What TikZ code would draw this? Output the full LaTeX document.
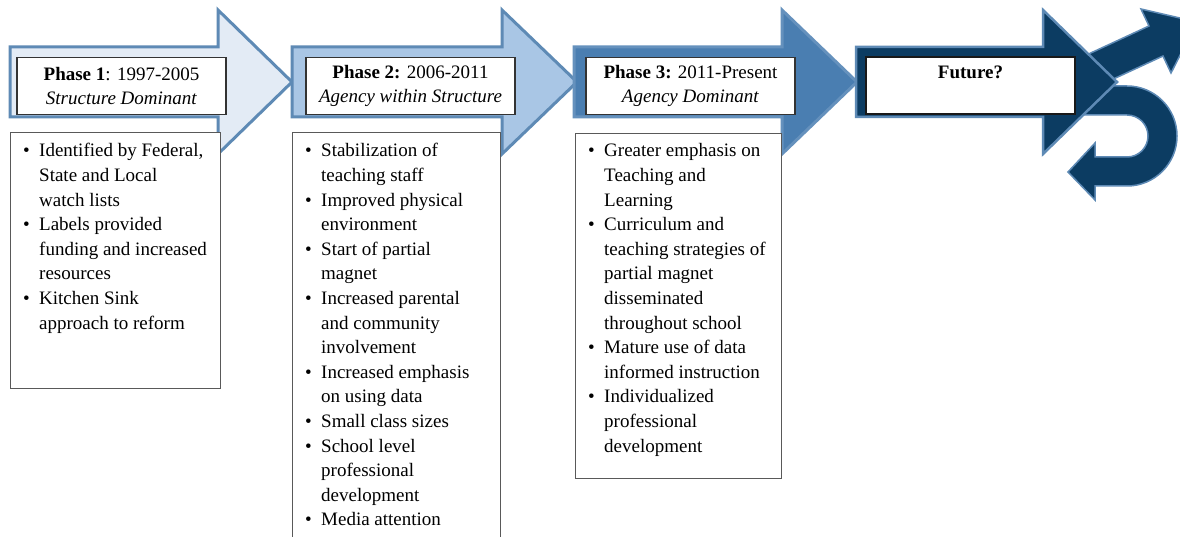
\documentclass[tikz,border=0pt]{standalone}
\usepackage{fontspec}
\setmainfont{Liberation Serif}
\definecolor{edgeblue}{HTML}{5E8AB5}
\definecolor{fillA}{HTML}{E3EBF5}
\definecolor{fillB}{HTML}{A9C6E5}
\definecolor{fillC}{HTML}{4A7EB1}
\definecolor{fillD}{HTML}{0C3C62}
\newcommand\bul{\makebox[16pt][l]{\textbullet}}
\newcommand\ind{\hspace*{16pt}}
\begin{document}
\begin{tikzpicture}[x=1pt,y=-1pt,
  phasearrow/.style={draw=edgeblue,line width=3pt,line join=miter},
  turnarrow/.style={draw=edgeblue,line width=1.5pt,fill=fillD,line join=miter},
  headbox/.style={draw=black!80,line width=1.2pt,fill=white,minimum width=209pt,
    minimum height=57pt,inner sep=0pt,align=center,font=\fontsize{19}{24}\selectfont},
  listbox/.style={draw=black!65,line width=1pt,fill=white,anchor=north west,inner sep=0pt},
  listtext/.style={anchor=base west,inner sep=0pt,font=\fontsize{19}{24.6}\selectfont}]
\clip (0,0) rectangle (1180,537);
\fill[white] (0,0) rectangle (1180,537);

% phase arrows
\draw[phasearrow,fill=fillA] (10,47) -- (218,47) -- (218,10) -- (292,82) -- (218,154) -- (218,117) -- (10,117) -- cycle;
\draw[phasearrow,fill=fillB] (292,47) -- (502,47) -- (502,10) -- (577,82) -- (502,154) -- (502,117) -- (292,117) -- cycle;
\draw[phasearrow,fill=fillC,draw=fillC!85!white] (574,47) -- (782,47) -- (782,10) -- (857,82) -- (782,154) -- (782,117) -- (574,117) -- cycle;

% branching arrows behind the last head
\draw[turnarrow] (1067,64) -- (1149,26) -- (1141,9) -- (1197,22) -- (1171,73) -- (1163,56) -- (1081,94) -- cycle;
\draw[turnarrow] (1075,86) -- (1127,86)
  .. controls (1154.6,86) and (1177,108.4) .. (1177,136)
  .. controls (1177,163.6) and (1154.6,186) .. (1127,186)
  -- (1095,186) -- (1095,200) -- (1068,172) -- (1095,143) -- (1095,157) -- (1127,157)
  .. controls (1138.6,157) and (1148,147.6) .. (1148,136)
  .. controls (1148,124.4) and (1138.6,115) .. (1127,115)
  -- (1075,115) -- cycle;

\draw[phasearrow,fill=fillD,line width=2.5pt] (856,47) -- (1043,47) -- (1043,10) -- (1117,82) -- (1043,154) -- (1043,117) -- (856,117) -- cycle;

% phase titles
\node[headbox] (h1) at (121.5,86) {\textbf{Phase 1}: 1997-2005\\\textit{Structure Dominant}};
\node[headbox] (h2) at (410.5,86) {\textbf{Phase 2:} 2006-2011\\\textit{Agency within Structure}};
\node[headbox] (h3) at (690.5,86) {\textbf{Phase 3:} 2011-Present\\\textit{Agency Dominant}};
\node[headbox,line width=2pt,draw=black!90] (h4) at (970.5,86) {\textbf{Future?}\\\phantom{Ag}};

% phase details
\node[listbox,minimum width=210pt,minimum height=256pt] (l1) at (10,132) {};
\node[listtext] (t1) at ([shift={(13,25)}]l1.north west) {\begin{tabular}[t]{@{}l@{}}
\bul Identified by Federal,\\ \ind State and Local\\ \ind watch lists\\
\bul Labels provided\\ \ind funding and increased\\ \ind resources\\
\bul Kitchen Sink\\ \ind approach to reform
\end{tabular}};

\node[listbox,minimum width=208pt,minimum height=420pt] (l2) at (292,132) {};
\node[listtext] (t2) at ([shift={(13,25)}]l2.north west) {\begin{tabular}[t]{@{}l@{}}
\bul Stabilization of\\ \ind teaching staff\\
\bul Improved physical\\ \ind environment\\
\bul Start of partial\\ \ind magnet\\
\bul Increased parental\\ \ind and community\\ \ind involvement\\
\bul Increased emphasis\\ \ind on using data\\
\bul Small class sizes\\
\bul School level\\ \ind professional\\ \ind development\\
\bul Media attention
\end{tabular}};

\node[listbox,minimum width=206pt,minimum height=345pt] (l3) at (575,133) {};
\node[listtext] (t3) at ([shift={(13,24)}]l3.north west) {\begin{tabular}[t]{@{}l@{}}
\bul Greater emphasis on\\ \ind Teaching and\\ \ind Learning\\
\bul Curriculum and\\ \ind teaching strategies of\\ \ind partial magnet\\ \ind disseminated\\ \ind throughout school\\
\bul Mature use of data\\ \ind informed instruction\\
\bul Individualized\\ \ind professional\\ \ind development
\end{tabular}};
\end{tikzpicture}
\end{document}
